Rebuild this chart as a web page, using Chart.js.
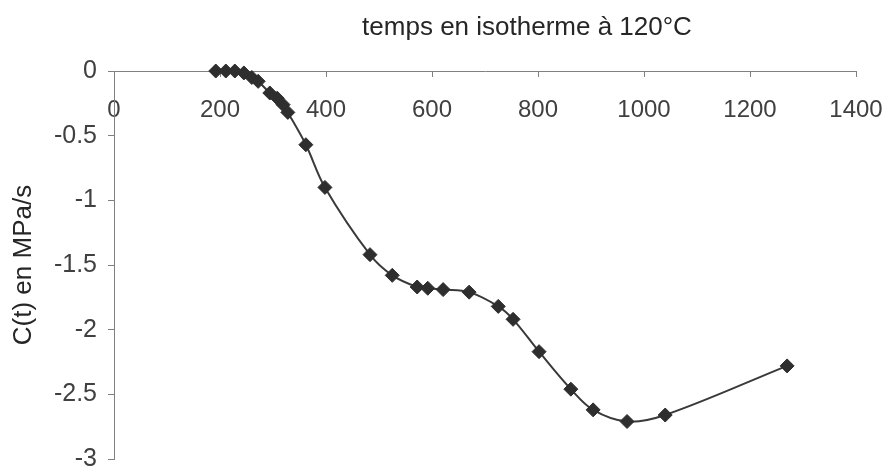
<!DOCTYPE html>
<html>
<head>
<meta charset="utf-8">
<script src="https://cdn.jsdelivr.net/npm/chart.js@4.4.0/dist/chart.umd.min.js"></script>
<style>
  html, body { margin: 0; padding: 0; background: #ffffff; }
  #wrap { width: 886px; height: 467px; }
</style>
</head>
<body>
<div id="wrap"><canvas id="c" width="886" height="467"></canvas></div>
<script>
// ---- data ----
const timeValues = [192, 211, 228, 245, 260, 272, 294, 308, 319, 328, 362, 398, 483, 525, 572, 592, 621, 670, 725, 753, 802, 862, 904, 968, 1040, 1270];
const cValues = [0, 0, 0, -0.015, -0.05, -0.08, -0.17, -0.21, -0.26, -0.32, -0.57, -0.90, -1.42, -1.58, -1.67, -1.68, -1.69, -1.71, -1.82, -1.92, -2.17, -2.46, -2.62, -2.71, -2.66, -2.28];
const xTickValues = [0, 200, 400, 600, 800, 1000, 1200, 1400];
const yTickValues = [0, -0.5, -1, -1.5, -2, -2.5, -3];
const chartTitle = 'temps en isotherme à 120°C';
const yAxisTitle = 'C(t) en MPa/s';

const points = timeValues.map((t, i) => ({ x: t, y: cValues[i] }));
const FONT = '"Liberation Sans", Arial, sans-serif';

const topTitle = {
  id: 'topTitle',
  afterDraw(chart) {
    const ctx = chart.ctx;
    ctx.save();
    ctx.font = '26px ' + FONT;
    ctx.fillStyle = '#262626';
    ctx.textAlign = 'center';
    ctx.textBaseline = 'alphabetic';
    ctx.fillText(chartTitle, 527, 35);
    ctx.restore();
  }
};

new Chart(document.getElementById('c'), {
  type: 'scatter',
  data: {
    datasets: [{
      data: points,
      showLine: true,
      borderColor: '#3a3a3a',
      borderWidth: 2,
      tension: 0.35,
      pointStyle: 'rectRot',
      pointRadius: 7,
      pointBackgroundColor: '#2e2e2e',
      pointBorderColor: '#2e2e2e',
      pointBorderWidth: 1,
      clip: false
    }]
  },
  options: {
    responsive: false,
    animation: false,
    devicePixelRatio: 1,
    layout: { padding: { top: 71, right: 30, bottom: 6, left: 0 } },
    plugins: { legend: { display: false }, tooltip: { enabled: false }, title: { display: false } },
    scales: {
      x: {
        type: 'linear',
        position: { y: 0 },
        min: 0, max: 1400,
        afterBuildTicks: (s) => { s.ticks = xTickValues.map(v => ({ value: v })); },
        afterFit: (s) => { s.paddingLeft = 0; s.paddingRight = 0; },
        ticks: { font: { family: FONT, size: 24 }, color: '#404040', padding: 20, maxRotation: 0,
                 callback: (v) => String(v) },
        grid: { drawOnChartArea: false, drawTicks: true, tickLength: 5, color: '#808080', lineWidth: 1 },
        border: { display: true, color: '#808080', width: 1 }
      },
      y: {
        type: 'linear',
        position: 'left',
        min: -3, max: 0,
        afterBuildTicks: (s) => { s.ticks = yTickValues.map(v => ({ value: v })); },
        afterFit: (s) => { s.width = 114; s.paddingTop = 0; s.paddingBottom = 0; },
        ticks: { font: { family: FONT, size: 25 }, color: '#404040', padding: 11,
                 callback: (v) => String(v) },
        grid: { drawOnChartArea: false, drawTicks: true, tickLength: 6, color: '#808080', lineWidth: 1 },
        border: { display: true, color: '#808080', width: 1 },
        title: { display: true, text: yAxisTitle, font: { family: FONT, size: 26 }, color: '#262626', padding: { top: 8, bottom: 0 } }
      }
    }
  },
  plugins: [topTitle]
});
</script>
</body>
</html>
